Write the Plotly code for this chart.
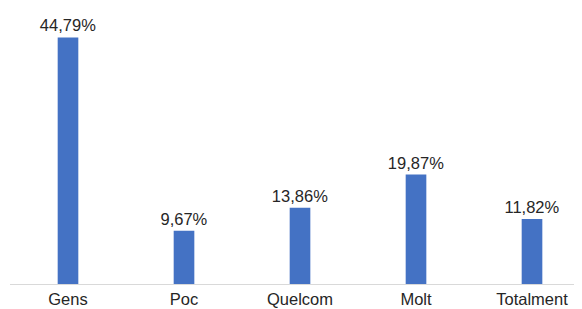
import plotly.graph_objects as go

categories = ["Gens", "Poc", "Quelcom", "Molt", "Totalment"]
values = [44.79, 9.67, 13.86, 19.87, 11.82]
labels = [f"{v:.2f}".replace(".", ",") + "%" for v in values]

fig = go.Figure(
    go.Bar(
        x=list(range(len(categories))),
        y=values,
        text=labels,
        textposition="outside",
        constraintext="none",
        textfont=dict(family="Liberation Sans, Arial, sans-serif", size=16.5, color="#262626"),
        marker=dict(color="#4472C4", line=dict(width=0)),
        width=0.178,
        cliponaxis=False,
    )
)

# page body has an 8px margin; figure sized to fill the remaining window
fig.update_layout(
    width=574,
    height=301,
    margin=dict(l=2, r=0, t=2, b=25),
    paper_bgcolor="white",
    plot_bgcolor="white",
    showlegend=False,
    xaxis=dict(
        range=[-0.5, 4.431],
        tickmode="array",
        tickvals=list(range(len(categories))),
        ticktext=categories,
        showline=True,
        linecolor="#d9d9d9",
        linewidth=1,
        showgrid=False,
        zeroline=False,
        ticks="",
        automargin=False,
        tickfont=dict(family="Liberation Sans, Arial, sans-serif", size=16.5, color="#262626"),
    ),
    yaxis=dict(
        range=[0, 49.77],
        visible=False,
        showgrid=False,
        zeroline=False,
    ),
)

fig.write_html("out.html")
